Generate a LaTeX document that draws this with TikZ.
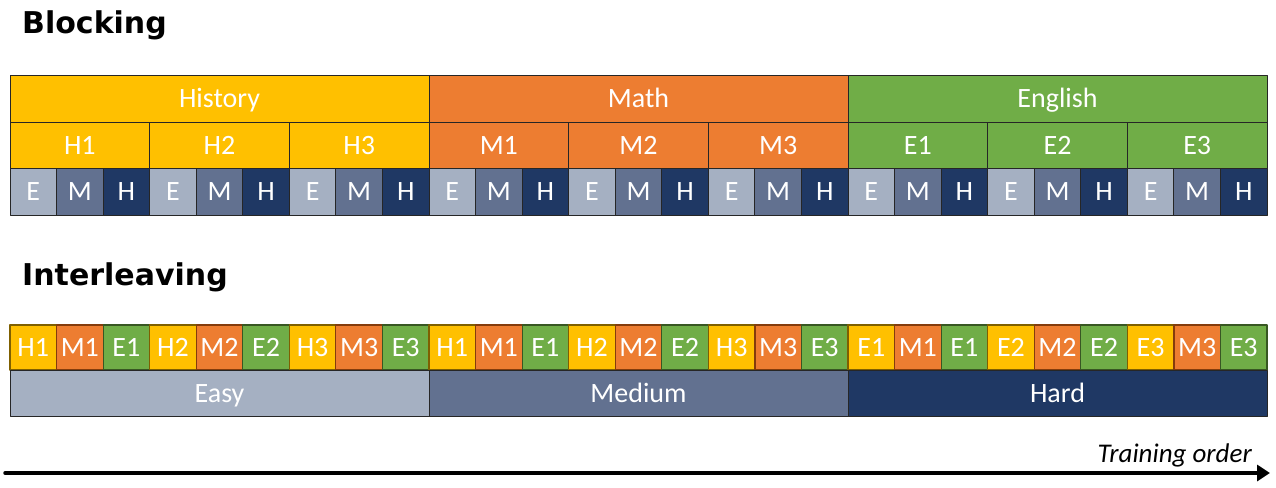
\documentclass[tikz,border=0pt]{standalone}
\usepackage{fontspec}
\setmainfont{Carlito}
\newfontfamily\headfont{DejaVu Sans}
\usetikzlibrary{arrows.meta}
\definecolor{histc}{HTML}{FFC000}
\definecolor{mathc}{HTML}{ED7D31}
\definecolor{englc}{HTML}{70AD47}
\definecolor{histd}{HTML}{7F6000}
\definecolor{mathd}{HTML}{843C0C}
\definecolor{engld}{HTML}{385723}
\definecolor{easyc}{HTML}{A5B0C2}
\definecolor{medc}{HTML}{627190}
\definecolor{hardc}{HTML}{1F3864}
\tikzset{
  cell/.style={draw=black!85,line width=1pt,inner sep=0pt,outer sep=0pt,anchor=north west,
    text=white,text height=18pt,text depth=0pt,font=\fontsize{28}{32}\selectfont},
  ilcell/.style={cell,minimum width=46.56pt,minimum height=45pt,line width=1.2pt},
  title/.style={anchor=base west,inner sep=0pt,font=\headfont\bfseries\fontsize{30}{34}\selectfont},
}
\begin{document}
\begin{tikzpicture}[x=1pt,y=-1pt,line cap=round,line join=round]
  \useasboundingbox (0,0) rectangle (1276,487);
  \node[title] (blk) at (22,34) {Blocking};
  \node[title] (ilv) at (22,285) {Interleaving};
  \foreach \name/\lab/\col [count=\i from 0] in {hist/History/histc,math/Math/mathc,engl/English/englc}
    \node[cell,fill=\col,minimum width=419pt,minimum height=47pt] (\name) at (10+\i*419,75) {\lab};
  \foreach \lab/\col [count=\j from 0] in {H1/histc,H2/histc,H3/histc,M1/mathc,M2/mathc,M3/mathc,E1/englc,E2/englc,E3/englc}
    \node[cell,fill=\col,minimum width=139.67pt,minimum height=46pt] (sub\j) at ({10+\j*139.667},122) {\lab};
  \foreach \k in {0,...,8}
    \foreach \lvl/\col [count=\m from 0] in {E/easyc,M/medc,H/hardc}
      \node[cell,fill=\col,minimum width=46.56pt,minimum height=47pt] (lv\k\m) at ({10+(3*\k+\m)*46.556},168) {\lvl};
  \foreach \lv/\first in {0/H,1/H,2/E}
    \foreach \n in {1,2,3}
      \foreach \lt/\col/\bd [count=\m from 0] in {\first/histc/histd,M/mathc/mathd,E/englc/engld}
        \node[ilcell,fill=\col,draw=\bd] (il\lv\n\m) at ({10+(9*\lv+3*\n-3+\m)*46.556},325) {\lt\n};
  \foreach \name/\lab/\col [count=\i from 0] in {easy/Easy/easyc,med/Medium/medc,hard/Hard/hardc}
    \node[cell,fill=\col,minimum width=419pt,minimum height=46pt] (\name) at (10+\i*419,370) {\lab};
  \coordinate (tstart) at (5,473);
  \coordinate (tend) at (1270,473);
  \draw[line width=3.5pt,-{Triangle[length=13pt,width=16pt]}] (tstart) -- (tend);
  \node[anchor=base east,inner sep=0pt,font=\itshape\fontsize{27}{30}\selectfont] (order) at (1252,462) {Training order};
\end{tikzpicture}
\end{document}
